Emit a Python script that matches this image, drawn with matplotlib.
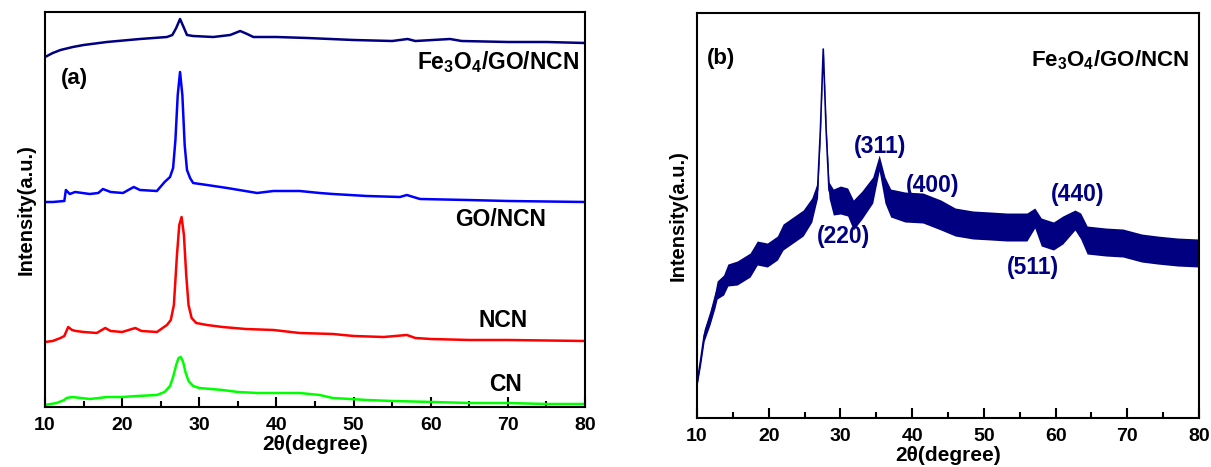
import numpy as np
import matplotlib
matplotlib.use("Agg")
import matplotlib.pyplot as plt
from matplotlib.ticker import MultipleLocator

plt.rcParams["font.family"] = ["Liberation Sans", "DejaVu Sans"]
plt.rcParams["font.weight"] = "bold"
plt.rcParams["mathtext.fontset"] = "custom"
plt.rcParams["mathtext.rm"] = "Liberation Sans:bold"
plt.rcParams["mathtext.bf"] = "Liberation Sans:bold"
plt.rcParams["mathtext.default"] = "bf"

# ---- (a) stacked XRD patterns ----
cn_theta = [10, 11.5, 12.5, 12.8, 13.5, 15.8, 17, 18, 20, 22, 24.5, 25.5, 26.2, 26.6, 27.0, 27.3,
            27.6, 27.9, 28.2, 28.6, 29.2, 30, 33, 35, 37.5, 40.5, 43, 45.6, 47.3, 51.7, 55, 60.3,
            65, 70, 75, 80]
cn_int = [2, 4, 7, 9, 10, 8, 9, 10, 10, 11, 12, 15, 21, 30, 42, 49,
          50, 45, 35, 26, 21, 19, 17, 15, 14, 14, 14, 12, 9, 7, 6, 5,
          4, 4, 3, 3]

ncn_theta = [10, 11, 12, 12.5, 13, 13.5, 14, 15, 16.7, 17.8, 18.5, 20, 21.7, 22.5, 24.5, 25.8,
             26.3, 26.7, 27.1, 27.4, 27.7, 28.0, 28.3, 28.6, 29.0, 29.6, 31, 33, 36, 39.6, 43,
             47.3, 50, 53.9, 56.9, 58, 60, 65, 70, 80]
ncn_int = [65, 66, 69, 71, 80, 77, 76, 75, 74, 79, 76, 75, 79, 76, 75, 82,
           87, 102, 152, 182, 190, 172, 132, 102, 89, 84, 82, 80, 78, 77, 74,
           73, 71, 70, 72, 69, 68, 67, 67, 66]

go_ncn_theta = [10, 11, 12.5, 12.7, 13.2, 13.9, 15.8, 16.9, 17.5, 18.5, 20.1, 21.5, 22.3, 24.5,
                25.5, 26.2, 26.6, 26.9, 27.2, 27.5, 27.8, 28.1, 28.4, 28.8, 29.2, 31, 33.6, 37.5,
                39.6, 43, 45.6, 47.3, 51.7, 56, 56.9, 58.6, 64.7, 70, 80]
go_ncn_int = [205, 205, 206, 217, 213, 215, 213, 214, 218, 215, 214, 220, 217, 216,
              225, 230, 239, 267, 312, 335, 312, 262, 237, 229, 224, 222, 219, 214,
              216, 216, 214, 213, 211, 210, 212, 208, 207, 206, 205]

fe_theta = [10, 11, 12, 13.6, 15, 18, 22.3, 25.8, 26.5, 27.0, 27.5, 27.9, 28.4, 29.2, 31.8, 34,
            35.3, 36.2, 37, 40, 44, 50, 55, 57, 58, 62.5, 64, 70, 75, 80]
fe_int = [350, 354, 357, 360, 362, 365, 368, 370, 372, 379, 388, 381, 372, 371, 370, 372,
          376, 373, 370, 370, 369, 367, 366, 368, 366, 368, 366, 365, 365, 364]

# ---- (b) Fe3O4/GO/NCN pattern: mean trace and half-width of the noise band ----
b_theta = [10, 10.5, 11, 11.8, 12.5, 12.8, 13.7, 14.3, 15.6, 17.4, 18.4, 19.8, 21.2, 22, 24.8,
           26, 26.8, 27.2, 27.6, 28.0, 28.4, 29, 30, 31, 31.8, 33, 34.5, 35.4, 36.2, 37, 39,
           41.5, 44, 46, 48.5, 51, 53.2, 56, 57.1, 58, 59.7, 61, 62.7, 63.5, 64.4, 67, 69.4,
           72, 74.2, 77, 80]
b_int = [35, 58, 83, 100, 118, 128, 133, 143, 145, 153, 165, 163, 170, 181, 195,
         208, 228, 288, 369, 288, 228, 216, 218, 216, 203, 213, 228, 255, 228, 215, 211,
         210, 203, 196, 193, 192, 191, 191, 200, 186, 182, 188, 198, 192, 178, 176, 175,
         170, 168, 166, 165]
b_spread = [3, 5, 6, 7, 8, 9, 10, 11, 12, 12, 12, 12, 12, 13, 13,
            12, 8, 4, 2, 4, 8, 13, 14, 14, 15, 14, 13, 8, 13, 14, 15,
            15, 15, 14, 14, 14, 14, 14, 10, 14, 14, 14, 10, 13, 14, 14, 14,
            14, 14, 14, 14]

hkl_labels = ["(220)", "(311)", "(400)", "(511)", "(440)"]
hkl_pos = [(30.4, 182), (35.5, 272), (42.8, 233), (56.9, 151), (63.1, 224)]

navy = "#000080"

fig = plt.figure(figsize=(12.11, 4.67), dpi=100)
ax1 = fig.add_axes([0.0372, 0.1285, 0.4459, 0.8458])
ax2 = fig.add_axes([0.5756, 0.1049, 0.4145, 0.8672])

ax1.plot(cn_theta, cn_int, color="#00ff00", lw=1.8)
ax1.plot(ncn_theta, ncn_int, color="#ff0000", lw=1.8)
ax1.plot(go_ncn_theta, go_ncn_int, color="#0000ff", lw=1.8)
ax1.plot(fe_theta, fe_int, color=navy, lw=1.8)
ax1.set_ylim(0, 395)

ax1.text(79.2, 345, "Fe$_3$O$_4$/GO/NCN", ha="right", va="center", fontsize=16.5)
ax1.text(74.9, 187, "GO/NCN", ha="right", va="center", fontsize=16.5)
ax1.text(72.6, 86, "NCN", ha="right", va="center", fontsize=16.5)
ax1.text(71.8, 22, "CN", ha="right", va="center", fontsize=16.5)
ax1.text(12.0, 328, "(a)", ha="left", va="center", fontsize=16)

b_int = np.array(b_int)
b_spread = np.array(b_spread)
ax2.fill_between(b_theta, b_int - b_spread, b_int + b_spread, color=navy, lw=0)
ax2.plot(b_theta, b_int, color=navy, lw=1.2)
ax2.set_ylim(0, 405)
ax2.text(78.6, 358, "Fe$_3$O$_4$/GO/NCN", ha="right", va="center", fontsize=16)
ax2.text(11.4, 360, "(b)", ha="left", va="center", fontsize=16)
for lab, (tx, ty) in zip(hkl_labels, hkl_pos):
    ax2.text(tx, ty, lab, ha="center", va="center", fontsize=16.5, color=navy)

for ax in (ax1, ax2):
    ax.set_xlim(10, 80)
    ax.xaxis.set_major_locator(MultipleLocator(10))
    ax.xaxis.set_minor_locator(MultipleLocator(5))
    ax.tick_params(axis="x", which="major", direction="in", length=7, width=1.5,
                   labelsize=14, pad=7)
    ax.tick_params(axis="x", which="minor", direction="in", length=4, width=1.5)
    ax.set_yticks([])
    for sp in ax.spines.values():
        sp.set_linewidth(1.5)
    ax.set_xlabel("2\u03b8(degree)", fontsize=15, fontweight="bold", labelpad=1)
    ax.set_ylabel("Intensity(a.u.)", fontsize=14.5, fontweight="bold", labelpad=7)

plt.savefig("out.png", dpi=100)
